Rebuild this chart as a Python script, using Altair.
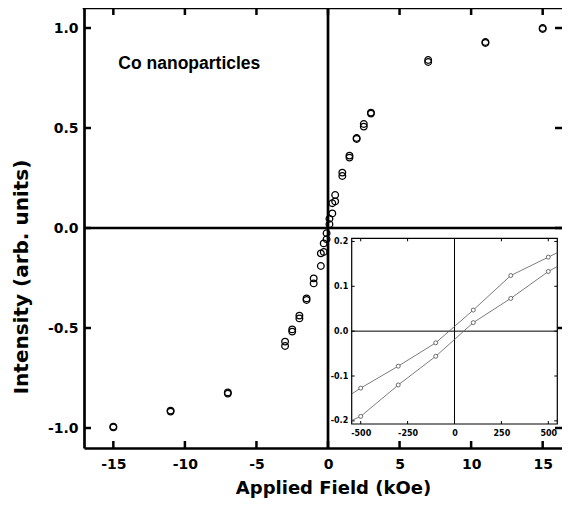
import altair as alt
import pandas as pd

# ---------------- data ----------------
# main panel: applied field (kOe) and intensity for the two branches of the loop
field_kOe = [15, 11, 7, 3, 2.5, 2, 1.5, 1, 0.5, 0.3, 0.1, -0.1, -0.3, -0.5,
             -1, -1.5, -2, -2.5, -3, -7, -11, -15]
intensity_upper = [1.000, 0.930, 0.840, 0.577, 0.520, 0.450, 0.362, 0.277, 0.165, 0.124,
                   0.046, -0.026, -0.077, -0.127, -0.252, -0.352, -0.438, -0.507,
                   -0.568, -0.822, -0.913, -0.993]
intensity_lower = [0.995, 0.925, 0.830, 0.572, 0.507, 0.445, 0.352, 0.260, 0.133, 0.073,
                   0.019, -0.056, -0.120, -0.190, -0.277, -0.360, -0.452, -0.518,
                   -0.590, -0.828, -0.918, -0.997]

# inset: low-field detail (Oe)
inset_field_Oe = [-500, -300, -100, 100, 300, 500]
inset_upper = [-0.127, -0.078, -0.026, 0.047, 0.124, 0.165]
inset_lower = [-0.190, -0.120, -0.056, 0.019, 0.073, 0.133]
# the connecting lines run on to the inset frame
inset_edge_field = [-548, 548]
inset_upper_edges = [-0.140, 0.175]
inset_lower_edges = [-0.199, 0.144]

main_x_ticks = [-15, -10, -5, 0, 5, 10, 15]
main_y_ticks = [-1.0, -0.5, 0.0, 0.5, 1.0]
inset_x_ticks = [-500, -250, 0, 250, 500]
inset_y_ticks = [-0.2, -0.1, 0.0, 0.1, 0.2]

annotation = ["Co nanoparticles"]
annotation_x = [-14.65]
annotation_y = [0.793]

x_title = "Applied Field (kOe)"
y_title = "Intensity (arb. units)"

# ---------------- layout ----------------
W, H = 478, 440
X_DOMAIN = [-17.05, 16.35]
Y_DOMAIN = [-1.1, 1.1]
IX0, IX1, IY0, IY1 = 267.7, 473.3, 230.3, 416.0   # inset frame (px in plot area)
INSET_X_DOMAIN = [-548, 548]
INSET_Y_DOMAIN = [-0.207, 0.207]
FONT = "DejaVu Sans"
MINUS = "replace(datum.label, '\u2212', '-')"


def xs():
    return alt.Scale(domain=X_DOMAIN, nice=False, zero=False)


def ys():
    return alt.Scale(domain=Y_DOMAIN, nice=False, zero=False)


def ixs():
    return alt.Scale(domain=INSET_X_DOMAIN, range=[IX0, IX1], nice=False, zero=False)


def iys():
    return alt.Scale(domain=INSET_Y_DOMAIN, range=[IY1, IY0], nice=False, zero=False)


one = pd.DataFrame({"v": [0.0]})

# ---------------- main panel ----------------
main_df = pd.DataFrame({
    "field": field_kOe + field_kOe,
    "intensity": intensity_upper + intensity_lower,
    "branch": ["upper"] * len(field_kOe) + ["lower"] * len(field_kOe),
})

x_axis = alt.Axis(orient="bottom", values=main_x_ticks, format="d", labelExpr=MINUS,
                  ticks=False, domain=True, domainColor="black",
                  domainWidth=2.7, grid=False,
                  labelFont=FONT, labelFontWeight="bold", labelFontSize=14,
                  labelColor="black", labelPadding=9, labelFlush=False,
                  title=x_title, titleFont=FONT, titleFontWeight="bold",
                  titleFontSize=18, titleColor="black", titleX=249, titleY=45,
                  titleBaseline="alphabetic", titleAlign="center")
y_axis = alt.Axis(orient="left", values=main_y_ticks, format=".1f", labelExpr=MINUS,
                  ticks=False, domain=True, domainColor="black",
                  domainWidth=2.7, grid=False,
                  labelFont=FONT, labelFontWeight="bold", labelFontSize=14,
                  labelColor="black", labelPadding=6, labelFlush=False,
                  title=y_title, titleFont=FONT, titleFontWeight="bold",
                  titleFontSize=20, titleColor="black", titleAngle=270,
                  titleX=-62.5, titleY=268.5, titleBaseline="middle",
                  titleAlign="center")

points = alt.Chart(main_df).mark_point(
    shape="circle", filled=False, color="black", size=44, strokeWidth=1.3, opacity=1
).encode(
    x=alt.X("field:Q", scale=xs(), axis=x_axis),
    y=alt.Y("intensity:Q", scale=ys(), axis=y_axis),
    detail="branch:N",
)

zero_v = alt.Chart(one).mark_rule(color="black", strokeWidth=2.7).encode(
    x=alt.X("v:Q", scale=xs(), axis=None))
zero_h = alt.Chart(one).mark_rule(color="black", strokeWidth=2.7).encode(
    y=alt.Y("v:Q", scale=ys(), axis=None))
top_frame = alt.Chart(one).mark_rule(color="black", strokeWidth=2.7, strokeCap="square").encode(
    x=alt.value(0), x2=alt.value(W), y=alt.value(0))

xt = pd.DataFrame({"t": main_x_ticks})
yt = pd.DataFrame({"t": main_y_ticks})
TL = 7
tick_style = dict(color="black", strokeWidth=2.5)
ticks_bottom = alt.Chart(xt).mark_rule(**tick_style).encode(
    x=alt.X("t:Q", scale=xs(), axis=None), y=alt.value(H), y2=alt.value(H - TL))
ticks_top = alt.Chart(xt).mark_rule(**tick_style).encode(
    x=alt.X("t:Q", scale=xs(), axis=None), y=alt.value(0), y2=alt.value(TL))
ticks_left = alt.Chart(yt).mark_rule(**tick_style).encode(
    y=alt.Y("t:Q", scale=ys(), axis=None), x=alt.value(0), x2=alt.value(TL))
ticks_right = alt.Chart(yt).mark_rule(**tick_style).encode(
    y=alt.Y("t:Q", scale=ys(), axis=None), x=alt.value(W), x2=alt.value(W - TL))

label = alt.Chart(pd.DataFrame({"x": annotation_x, "y": annotation_y, "t": annotation})).mark_text(
    font="Liberation Sans", fontWeight="bold", fontSize=17.5, align="left",
    baseline="alphabetic", color="black"
).encode(
    x=alt.X("x:Q", scale=xs(), axis=None),
    y=alt.Y("y:Q", scale=ys(), axis=None),
    text="t:N",
)

# ---------------- inset ----------------
line_df = pd.DataFrame({
    "x": [inset_edge_field[0]] + inset_field_Oe + [inset_edge_field[1]]
         + [inset_edge_field[0]] + inset_field_Oe + [inset_edge_field[1]],
    "y": [inset_upper_edges[0]] + inset_upper + [inset_upper_edges[1]]
         + [inset_lower_edges[0]] + inset_lower + [inset_lower_edges[1]],
    "branch": ["upper"] * 8 + ["lower"] * 8,
})
pt_df = pd.DataFrame({
    "x": inset_field_Oe + inset_field_Oe,
    "y": inset_upper + inset_lower,
    "branch": ["upper"] * 6 + ["lower"] * 6,
})

ix_axis = alt.Axis(orient="bottom", offset=-(H - IY1), values=inset_x_ticks, format="d",
                   labelExpr=MINUS, ticks=False, domain=False, grid=False,
                   labelFont=FONT, labelFontWeight="bold", labelFontSize=8,
                   labelColor="black", labelPadding=5, labelFlush=False, title=None,
                   zindex=1)
iy_axis = alt.Axis(orient="left", offset=-IX0, values=inset_y_ticks, format=".1f",
                   labelExpr=MINUS, ticks=False, domain=False, grid=False,
                   labelFont=FONT, labelFontWeight="bold", labelFontSize=8,
                   labelColor="black", labelPadding=4, labelFlush=False, title=None,
                   zindex=1)

inset_bg = alt.Chart(one).mark_rect(fill="white", stroke="black", strokeWidth=1.2).encode(
    x=alt.value(IX0), x2=alt.value(IX1), y=alt.value(IY0), y2=alt.value(IY1))
inset_zero_v = alt.Chart(one).mark_rule(color="black", strokeWidth=1).encode(
    x=alt.X("v:Q", scale=ixs(), axis=None), y=alt.value(IY0), y2=alt.value(IY1))
inset_zero_h = alt.Chart(one).mark_rule(color="black", strokeWidth=1).encode(
    y=alt.Y("v:Q", scale=iys(), axis=None), x=alt.value(IX0), x2=alt.value(IX1))

inset_lines = alt.Chart(line_df).mark_line(color="#5a5a5a", strokeWidth=0.8).encode(
    x=alt.X("x:Q", scale=ixs(), axis=ix_axis),
    y=alt.Y("y:Q", scale=iys(), axis=iy_axis),
    detail="branch:N",
    order="x:Q",
)
inset_pts = alt.Chart(pt_df).mark_point(
    shape="circle", filled=True, fill="white", stroke="#4a4a4a", size=16, strokeWidth=0.8,
    opacity=1
).encode(
    x=alt.X("x:Q", scale=ixs(), axis=None),
    y=alt.Y("y:Q", scale=iys(), axis=None),
    detail="branch:N",
)

ixt = pd.DataFrame({"t": inset_x_ticks})
iyt = pd.DataFrame({"t": inset_y_ticks})
ITL = 3
itick = dict(color="black", strokeWidth=1)
inset_ticks = [
    alt.Chart(ixt).mark_rule(**itick).encode(
        x=alt.X("t:Q", scale=ixs(), axis=None), y=alt.value(IY1), y2=alt.value(IY1 - ITL)),
    alt.Chart(ixt).mark_rule(**itick).encode(
        x=alt.X("t:Q", scale=ixs(), axis=None), y=alt.value(IY0), y2=alt.value(IY0 + ITL)),
    alt.Chart(iyt).mark_rule(**itick).encode(
        y=alt.Y("t:Q", scale=iys(), axis=None), x=alt.value(IX0), x2=alt.value(IX0 + ITL)),
    alt.Chart(iyt).mark_rule(**itick).encode(
        y=alt.Y("t:Q", scale=iys(), axis=None), x=alt.value(IX1), x2=alt.value(IX1 - ITL)),
]

chart = alt.layer(
    zero_v, zero_h, top_frame, ticks_bottom, ticks_top, ticks_left, ticks_right,
    points, label,
    inset_bg, inset_zero_v, inset_zero_h, *inset_ticks, inset_lines, inset_pts,
).resolve_scale(
    x="independent", y="independent"
).properties(
    width=W, height=H,
    padding={"left": 76, "top": 0, "right": 0, "bottom": 50},
    autosize=alt.AutoSizeParams(type="none"),
).configure_view(stroke=None).configure_axis(grid=False)

chart.save("out.html", embed_options={"renderer": "svg", "actions": False})
